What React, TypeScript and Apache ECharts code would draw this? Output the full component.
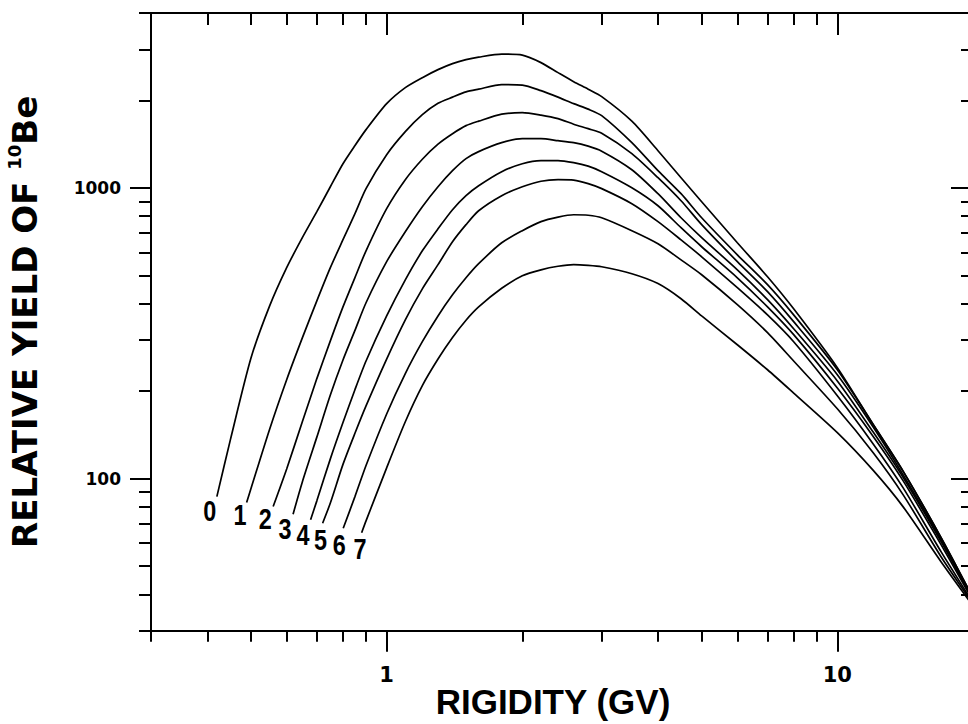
import React, { useEffect, useRef } from "react";
import * as echarts from "echarts";

// ---- Data ----
// Rigidity grid (GV) shared by all curves above 1 GV
const commonRigidity = [1.0, 1.1, 1.2, 1.3, 1.4, 1.5, 1.6, 1.8, 2.0, 2.2, 2.4, 2.6, 2.8, 3.0, 3.5, 4.0, 4.5, 5, 6, 7, 8, 10, 12, 14, 17, 20];

// Low-rigidity starts of each curve
const headRigidity0 = [0.42, 0.45, 0.5, 0.55, 0.6, 0.65, 0.7, 0.75, 0.8, 0.85, 0.9];
const headRigidity1 = [0.489, 0.5, 0.55, 0.6, 0.65, 0.7, 0.75, 0.8, 0.85, 0.9];
const headRigidity2 = [0.56, 0.6, 0.65, 0.7, 0.75, 0.8, 0.85, 0.9];
const headRigidity3 = [0.62, 0.65, 0.7, 0.75, 0.8, 0.85, 0.9];
const headRigidity4 = [0.678, 0.7, 0.75, 0.8, 0.85, 0.9];
const headRigidity5 = [0.721, 0.75, 0.8, 0.85, 0.9];
const headRigidity6 = [0.801, 0.85, 0.9];
const headRigidity7 = [0.88, 0.9];

// Relative yield of 10Be (head values, then values on commonRigidity)
const yield0 = [86.8, 136, 260, 393, 532, 675, 829, 1010, 1212, 1398, 1588,
  1951, 2215, 2397, 2554, 2679, 2765, 2820, 2888, 2865, 2700, 2494, 2322, 2188, 2062, 1698, 1344, 1085, 897, 648, 495, 384, 241, 154, 106, 62.6, 38.9];
const yield1 = [82.8, 92.5, 148, 219, 305, 409, 532, 664, 815, 995,
  1302, 1563, 1788, 1957, 2054, 2141, 2188, 2268, 2259, 2162, 2054, 1951, 1868, 1774, 1432, 1147, 956, 790, 589, 465, 366, 237, 154, 106, 62.6, 38.9];
const yield2 = [80.2, 108, 157, 221, 298, 390, 491, 608,
  849, 1068, 1256, 1416, 1538, 1639, 1698, 1795, 1816, 1781, 1732, 1658, 1600, 1544, 1313, 1085, 904, 748, 558, 440, 347, 228, 151, 103, 61.6, 38.6];
const yield3 = [75.5, 97.5, 139, 194, 256, 323, 403,
  558, 707, 862, 1010, 1147, 1262, 1334, 1432, 1478, 1478, 1455, 1432, 1393, 1339, 1156, 956, 790, 675, 523, 413, 328, 217, 145, 101, 60.6, 38.3];
const yield4 = [72.2, 83.9, 117, 156, 202, 254,
  363, 483, 608, 724, 842, 941, 1018, 1138, 1212, 1242, 1242, 1222, 1189, 1138, 1002, 869, 730, 628, 491, 390, 313, 205, 140, 98.3, 59.2, 38.0];
const yield5 = [70.3, 82.5, 112, 143, 178,
  258, 352, 450, 545, 653, 748, 835, 941, 1010, 1055, 1068, 1064, 1035, 995, 883, 766, 663, 580, 454, 366, 296, 193, 132, 93.0, 56.0, 37.4];
const yield6 = [67.5, 86.6, 111,
  167, 230, 296, 363, 429, 491, 549, 648, 713, 766, 794, 809, 806, 790, 713, 643, 566, 503, 397, 318, 254, 174, 123, 88.0, 53.8, 37.1];
const yield7 = [65.2, 71.6,
  109, 157, 209, 258, 306, 351, 390, 452, 499, 523, 538, 545, 542, 536, 507, 469, 416, 363, 289, 237, 197, 144, 107, 80.0, 51.7, 36.5];

const curveNames = ["0", "1", "2", "3", "4", "5", "6", "7"];
const headRigidities = [headRigidity0, headRigidity1, headRigidity2, headRigidity3, headRigidity4, headRigidity5, headRigidity6, headRigidity7];
const yields = [yield0, yield1, yield2, yield3, yield4, yield5, yield6, yield7];

// Axis ticks
const majorX = [1, 10];
const minorX = [0.3, 0.4, 0.5, 0.6, 0.7, 0.8, 0.9, 2, 3, 4, 5, 6, 7, 8, 9, 20];
const majorY = [100, 1000];
const minorY = [30, 40, 50, 60, 70, 80, 90, 200, 300, 400, 500, 600, 700, 800, 900, 2000, 3000, 4000];

// curve-label placement offsets (px) from each curve's first point
const labelOffsets = [[-7, 14], [-6.7, 12], [-8, 12.3], [-8, 14.7], [-7.7, 15], [-2, 16.4], [-4, 16.7], [-1.7, 16.3]];

const HELV = "'Liberation Sans', Arial, sans-serif";
const WIDE = "'DejaVu Sans', 'Liberation Sans', sans-serif";

export default function App() {
  const ref = useRef<HTMLDivElement>(null);

  useEffect(() => {
    if (!ref.current) return;
    const chart = echarts.init(ref.current, undefined, { renderer: "svg" });
    const black = "#000";
    const lineStyle = { color: black, width: 2 };
    const logBase: any = {
      type: "log",
      logBase: 10,
      splitLine: { show: false },
      minorTick: { show: false },
      minorSplitLine: { show: false },
    };
    const xRange = { min: 0.3, max: 20 };
    const yRange = { min: 30, max: 4000 };

    const xAxis: any[] = [
      {
        ...logBase, ...xRange, position: "bottom",
        axisLine: { show: true, onZero: false, lineStyle },
        axisTick: { show: true, inside: false, length: 21, customValues: majorX, lineStyle },
        axisLabel: {
          show: true, customValues: majorX, margin: 34, color: black,
          fontFamily: WIDE, fontWeight: "bold", fontSize: 21,
          formatter: (v: number) => String(Math.round(v)),
        },
        name: "RIGIDITY (GV)", nameLocation: "middle", nameGap: 71,
        nameMoveOverlap: false,
        nameTextStyle: {
          color: black, fontFamily: HELV, fontWeight: "bold", fontSize: 35,
          verticalAlign: "middle", padding: [0, 18, 0, 0],
        },
      },
      {
        ...logBase, ...xRange, position: "bottom",
        axisLine: { show: false },
        axisTick: { show: true, inside: false, length: 11, customValues: minorX, lineStyle },
        axisLabel: { show: false },
      },
      {
        ...logBase, ...xRange, position: "top",
        axisLine: { show: true, onZero: false, lineStyle },
        axisTick: { show: true, inside: true, length: 22, customValues: majorX, lineStyle },
        axisLabel: { show: false },
      },
      {
        ...logBase, ...xRange, position: "top",
        axisLine: { show: false },
        axisTick: { show: true, inside: true, length: 12, customValues: minorX, lineStyle },
        axisLabel: { show: false },
      },
    ];

    const yAxis: any[] = [
      {
        ...logBase, ...yRange, position: "left",
        axisLine: { show: true, onZero: false, lineStyle },
        axisTick: { show: true, inside: false, length: 21, customValues: majorY, lineStyle },
        axisLabel: {
          show: true, customValues: majorY, margin: 30, color: black,
          fontFamily: WIDE, fontWeight: "bold", fontSize: 17,
          formatter: (v: number) => String(Math.round(v)),
        },
        name: "{t|RELATIVE YIELD OF }{s|10}{t|Be}",
        nameLocation: "middle", nameRotate: 90, nameGap: 106,
        nameTextStyle: {
          rich: {
            t: { fontFamily: WIDE, fontWeight: "bold", fontSize: 34, color: black, lineHeight: 40 },
            s: { fontFamily: WIDE, fontWeight: "bold", fontSize: 18, color: black, lineHeight: 24, verticalAlign: "top" },
          },
        },
      },
      {
        ...logBase, ...yRange, position: "left",
        axisLine: { show: false },
        axisTick: { show: true, inside: false, length: 12, customValues: minorY, lineStyle },
        axisLabel: { show: false },
      },
      {
        ...logBase, ...yRange, position: "right",
        axisLine: { show: true, onZero: false, lineStyle },
        axisTick: { show: true, inside: true, length: 22, customValues: majorY, lineStyle },
        axisLabel: { show: false },
      },
      {
        ...logBase, ...yRange, position: "right",
        axisLine: { show: false },
        axisTick: { show: true, inside: true, length: 12, customValues: minorY, lineStyle },
        axisLabel: { show: false },
      },
    ];

    const xsList = yields.map((_, i) => headRigidities[i].concat(commonRigidity));

    const series = yields.map((ys, i) => ({
      type: "line",
      name: curveNames[i],
      xAxisIndex: 0,
      yAxisIndex: 0,
      data: ys.map((y, j) => [xsList[i][j], y]),
      smooth: 0.25,
      showSymbol: false,
      symbol: "none",
      lineStyle: { color: black, width: 1.7 },
      itemStyle: { color: black },
      emphasis: { disabled: true },
      silent: true,
    }));

    chart.setOption({
      animation: false,
      backgroundColor: "#fff",
      grid: { left: 151, top: 13, width: 822, height: 617.7, containLabel: false, outerBoundsMode: "none" },
      xAxis,
      yAxis,
      series,
    });

    // curve labels (narrow bold digits) placed at each curve's first point
    const graphic = yields.map((ys, i) => {
      const p = chart.convertToPixel({ seriesIndex: i }, [xsList[i][0], ys[0]]) as number[];
      return {
        type: "text",
        x: p[0] + labelOffsets[i][0],
        y: p[1] + labelOffsets[i][1],
        scaleX: 0.78,
        silent: true,
        style: {
          text: curveNames[i],
          fill: black,
          fontFamily: HELV,
          fontWeight: "bold",
          fontSize: 30,
          align: "center",
          verticalAlign: "middle",
        },
      };
    });
    chart.setOption({ graphic });

    return () => chart.dispose();
  }, []);

  return (
    <div style={{ position: "fixed", left: 0, top: 0, width: 968, height: 724, overflow: "hidden", background: "#fff" }}>
      <div ref={ref} style={{ width: 1000, height: 724 }} />
    </div>
  );
}
